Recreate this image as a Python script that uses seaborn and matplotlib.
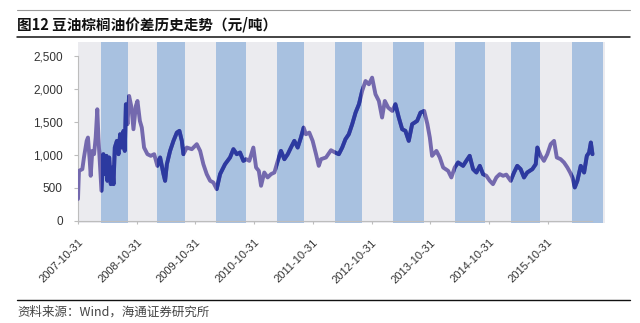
import matplotlib
matplotlib.use("Agg")
import matplotlib.pyplot as plt
import matplotlib.dates as mdates
from matplotlib.lines import Line2D
import seaborn as sns
import pandas as pd

# ---------------- data ----------------
dates = [
    "2007-10-31", "2007-11-06", "2007-11-27", "2007-12-07", "2007-12-24", "2008-01-01", "2008-01-12",
    "2008-01-18", "2008-01-28", "2008-02-08", "2008-02-18", "2008-02-28", "2008-03-06", "2008-03-17",
    "2008-03-25", "2008-04-06", "2008-04-15", "2008-04-25", "2008-05-01", "2008-05-12", "2008-05-22",
    "2008-06-01", "2008-06-08", "2008-06-16", "2008-06-29", "2008-07-09", "2008-07-19", "2008-07-30",
    "2008-08-09", "2008-08-17", "2008-08-24", "2008-09-03", "2008-09-13", "2008-09-28", "2008-10-10",
    "2008-10-25",
    "2008-11-04", "2008-11-19", "2008-12-01", "2008-12-15", "2009-01-05", "2009-01-26", "2009-02-16",
    "2009-03-08", "2009-03-25", "2009-04-15", "2009-04-25", "2009-05-06", "2009-05-26", "2009-06-16",
    "2009-07-07", "2009-07-23", "2009-08-07", "2009-08-17", "2009-09-07", "2009-10-08",
    "2009-11-08", "2009-11-29", "2009-12-19", "2010-01-09", "2010-01-30", "2010-02-19", "2010-03-12",
    "2010-04-02", "2010-05-03", "2010-06-03", "2010-06-24", "2010-07-15", "2010-08-04", "2010-08-25",
    "2010-09-11", "2010-10-01", "2010-10-26",
    "2010-11-12", "2010-11-29", "2010-12-13", "2011-01-02", "2011-01-23", "2011-02-13", "2011-03-06",
    "2011-03-27", "2011-04-16", "2011-05-07", "2011-05-28", "2011-06-17", "2011-07-08", "2011-07-29",
    "2011-08-18", "2011-09-04", "2011-09-18", "2011-10-09", "2011-10-30",
    "2011-11-20", "2011-12-07", "2011-12-21", "2012-01-21", "2012-02-21", "2012-03-18", "2012-04-10",
    "2012-05-01", "2012-05-21", "2012-06-11", "2012-07-02", "2012-07-23", "2012-08-13", "2012-09-02",
    "2012-09-23", "2012-10-14",
    "2012-11-03", "2012-11-24", "2012-12-15", "2013-01-04", "2013-01-21", "2013-02-11", "2013-03-08",
    "2013-03-28", "2013-04-18", "2013-05-09", "2013-05-29", "2013-06-19", "2013-07-10", "2013-08-10",
    "2013-08-31", "2013-09-23", "2013-10-13", "2013-10-28",
    "2013-11-11", "2013-12-08", "2013-12-29", "2014-01-19", "2014-02-19", "2014-03-11", "2014-04-01",
    "2014-04-22", "2014-05-23", "2014-06-12", "2014-07-03", "2014-07-24", "2014-08-14", "2014-09-04",
    "2014-09-24", "2014-10-15",
    "2014-11-05", "2014-11-25", "2014-12-16", "2015-01-06", "2015-01-27", "2015-02-16", "2015-03-15",
    "2015-04-05", "2015-04-25", "2015-05-16", "2015-06-06", "2015-06-26", "2015-07-28", "2015-08-18",
    "2015-08-28", "2015-09-18", "2015-10-08",
    "2015-10-29", "2015-11-19", "2015-12-10", "2015-12-27", "2016-01-20", "2016-02-10", "2016-03-02",
    "2016-03-19", "2016-04-02", "2016-04-17", "2016-05-03", "2016-05-24", "2016-06-14", "2016-07-01",
    "2016-07-15", "2016-07-26", "2016-08-05",
]
spread = [
    330, 757, 783, 960, 1212, 1263, 909, 682, 1060, 1010, 1263, 1692, 1263, 808, 455, 1010, 707, 985,
    606, 960, 555, 808, 555, 1111, 1212, 1010, 1313, 1111, 1364, 1060, 1768, 1465, 1894, 1717, 1389, 1742,
    1818, 1515, 1414, 1111, 1010, 985, 1010, 833, 960, 707, 606, 858, 1060, 1212, 1338, 1364, 1212, 1010,
    1111, 1086,
    1162, 1060, 858, 707, 606, 581, 480, 707, 858, 960, 1086, 1010, 1035, 909, 934, 909, 1111,
    808, 757, 530, 732, 657, 707, 732, 909, 1060, 934, 1010, 1111, 1212, 1111, 1263, 1414, 1313, 1338, 1212,
    1010, 833, 934, 960, 1070, 1035, 1010, 1111, 1237, 1313, 1465, 1641, 1768, 1970, 2121, 2071,
    2172, 1919, 1818, 1566, 1818, 1717, 1667, 1768, 1566, 1389, 1364, 1212, 1465, 1515, 1641, 1667, 1465, 1263,
    985, 1060, 960, 808, 757, 657, 808, 884, 833, 909, 985, 783, 732, 833, 707, 682,
    606, 555, 657, 707, 682, 700, 606, 732, 833, 783, 657, 732, 783, 858, 1111, 985, 909,
    1010, 1162, 1212, 960, 934, 884, 808, 732, 657, 505, 606, 833, 732, 985, 1035, 1187, 1010,
]

band_starts = ["2008-03-23", "2009-03-07", "2010-03-08", "2011-03-22", "2012-03-17",
               "2013-03-14", "2014-04-03", "2015-03-16", "2016-04-01"]
band_ends = ["2008-09-07", "2009-08-28", "2010-09-11", "2011-09-06", "2012-09-02",
             "2013-09-23", "2014-10-07", "2015-09-13", "2016-10-11"]

tick_dates = ["2007-10-31", "2008-10-31", "2009-10-31", "2010-10-31", "2011-10-31",
              "2012-10-31", "2013-10-31", "2014-10-31", "2015-10-31"]
yticks = [0, 500, 1000, 1500, 2000, 2500]
ytick_labels = ["0", "500", "1,000", "1,500", "2,000", "2,500"]

title = "图12 豆油棕榈油价差历史走势（元/吨）"
source = "资料来源：Wind，海通证券研究所"

# ---------------- style ----------------
sns.set_theme(style="white")
plt.rcParams["font.family"] = ["Liberation Sans", "Noto Sans CJK SC", "DejaVu Sans"]
CJK = ["Noto Sans CJK SC", "DejaVu Sans"]

PURPLE = "#7469ae"
DARKBLUE = "#2c3aa0"
BANDBLUE = "#a8c1e0"
BG = "#ebebef"
AXIS = "#bdbdbd"
TXT = "#333333"

df = pd.DataFrame({"date": pd.to_datetime(dates), "value": spread})

fig = plt.figure(figsize=(6.4, 3.23), dpi=100)
W, H = 640, 323
left, right, top, bottom = 78, 605, 42, 222.7
ax = fig.add_axes([left / W, 1 - bottom / H, (right - left) / W, (bottom - top) / H])
ax.set_facecolor(BG)

x0 = pd.Timestamp("2007-10-31")
x1 = pd.Timestamp("2016-10-22")
ax.set_xlim(x0, x1)
ax.set_ylim(-30, 2713)

patches = []
for s, e in zip(band_starts, band_ends):
    patches.append(ax.axvspan(pd.Timestamp(s), pd.Timestamp(e), color=BANDBLUE, lw=0, zorder=1))

# base line (purple), then the same series in dark blue clipped to each blue season band
sns.lineplot(data=df, x="date", y="value", color=PURPLE, lw=2.8, estimator=None,
             ax=ax, zorder=3, solid_joinstyle="round", solid_capstyle="round")
for p in patches:
    sns.lineplot(data=df, x="date", y="value", color=DARKBLUE, lw=2.8, estimator=None,
                 ax=ax, zorder=4, solid_joinstyle="round", solid_capstyle="round")
    ax.lines[-1].set_clip_path(p)

ax.set_xlim(x0, x1)
ax.set_xlabel("")
ax.set_ylabel("")
for sp in ["top", "right"]:
    ax.spines[sp].set_visible(False)
ax.spines["left"].set_color(AXIS)
ax.spines["left"].set_linewidth(0.8)
ax.spines["left"].set_bounds(0, 2500)
ax.spines["bottom"].set_position(("data", 0))
ax.spines["bottom"].set_color(AXIS)
ax.spines["bottom"].set_linewidth(0.8)
ax.spines["bottom"].set_bounds(mdates.date2num(x0), mdates.date2num(df["date"].iloc[-1]))
ax.spines["bottom"].set_zorder(5)

ax.set_yticks(yticks)
ax.set_yticklabels(ytick_labels)
ax.tick_params(axis="y", left=True, length=3, width=0.8, color=AXIS, pad=8,
               labelsize=8.5, labelcolor=TXT)

ax.set_xticks(pd.to_datetime(tick_dates))
ax.set_xticklabels(tick_dates, rotation=45, ha="right", rotation_mode="anchor")
ax.tick_params(axis="x", bottom=True, length=2, width=0.8, color=AXIS, pad=10,
               labelsize=8, labelcolor=TXT)
ax.grid(False)

# title and rules
fig.text(17 / W, 1 - 24 / H, title, fontsize=10.5, fontweight="bold", family=CJK,
         ha="left", va="center", color="#111111")
fig.add_artist(Line2D([17 / W, 630 / W], [1 - 10 / H] * 2, color="#9a9a9a", lw=0.8))
fig.add_artist(Line2D([17 / W, 630 / W], [1 - 37 / H] * 2, color="#111111", lw=1.1))
fig.add_artist(Line2D([17 / W, 630 / W], [1 - 300 / H] * 2, color="#111111", lw=1.0))
fig.text(17 / W, 1 - 312 / H, source, fontsize=9, family=CJK, ha="left", va="center",
         color="#444444")

fig.savefig("out.png", dpi=100)
